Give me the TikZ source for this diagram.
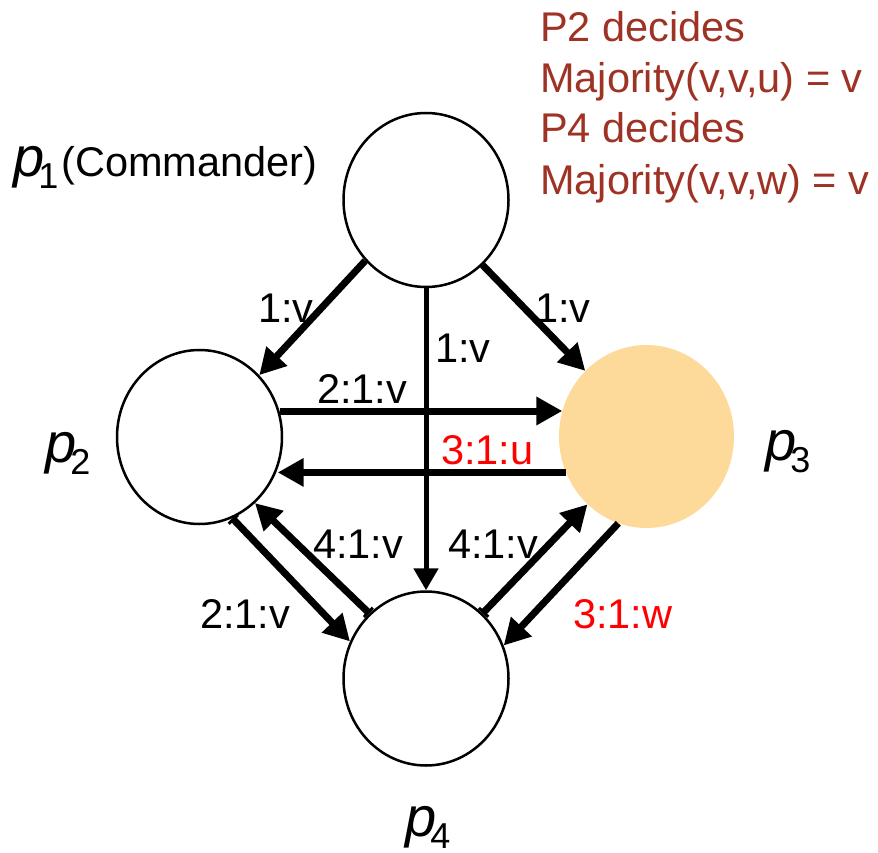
\documentclass[tikz,border=0pt]{standalone}
\usepackage{fontspec}
\setmainfont{Liberation Sans}
\usetikzlibrary{shapes.geometric,arrows.meta}
\definecolor{decred}{RGB}{158,50,36}
\definecolor{pfill}{RGB}{253,218,154}
\newcommand{\pname}[1]{{\fontsize{56}{60}\selectfont\itshape p}\kern-6pt\raisebox{-12pt}{\fontsize{36}{40}\selectfont #1}}
\tikzset{
  proc/.style={ellipse, draw, line width=2.5pt, minimum width=165pt, minimum height=174pt, inner sep=0pt},
  procf/.style={ellipse, fill=pfill, minimum width=175pt, minimum height=183pt, inner sep=0pt},
  arr/.style={line width=7pt, -{Triangle[length=26pt,width=27pt]}},
  varr/.style={line width=5pt, -{Triangle[length=22pt,width=24pt]}},
  barr/.style={line width=7pt, {Bar[width=13pt,line width=3pt]}-{Triangle[length=26pt,width=27pt]}},
  lbl/.style={inner sep=0pt, anchor=base west, font=\fontsize{41.5}{48}\selectfont},
  rlbl/.style={lbl, text=red},
  dlbl/.style={lbl, text=decred},
}
\begin{document}
\begin{tikzpicture}[x=1pt,y=-1pt]
\useasboundingbox (0,0) rectangle (878,853);
% processes
\node[proc] (p1) at (426,200) {};
\node[proc] (p2) at (199.5,437) {};
\node[procf] (p3) at (646.5,436.5) {};
\node[proc] (p4) at (426,678.5) {};
% names
\node[lbl] (n1) at (13,177) {\pname{1}\kern3pt(Commander)};
\node[lbl] (n2) at (45,462) {\pname{2}};
\node[lbl] (n3) at (765,460) {\pname{3}};
\node[lbl] (n4) at (405,836) {\pname{4}};
% decisions
\node[dlbl] (d1) at (540,42) {P2 decides};
\node[dlbl] (d2) at (540,93) {Majority(v,v,u) = v};
\node[dlbl] (d3) at (540,143) {P4 decides};
\node[dlbl] (d4) at (540,195) {Majority(v,v,w) = v};
% round 1
\draw[arr] (p1.225.5) -- (p2.46);
\draw[arr] (p1.311) -- (p3.133.5);
\draw[varr] (p1.270) -- (p4.90);
% round 2
\draw[arr] (p2.18) -- (p2.18 -| p3.163);
\draw[arr] (p3.204.5) -- (p3.204.5 -| p2.-22);
\draw[barr] (p2.292.6) -- (p4.154);
\draw[barr] (p4.131.4) -- (p2.310.5);
\draw[barr] (p4.49.5) -- (p3.229.2);
\draw[arr] (p3.252.7) -- (p4.23.6);
% labels
\node[lbl] (l1) at (258,322) {1:v};
\node[lbl] (l2) at (435,362) {1:v};
\node[lbl] (l3) at (535,322) {1:v};
\node[lbl] (l4) at (317,403) {2:1:v};
\node[rlbl] (l5) at (441,464) {3:1:u};
\node[lbl] (l6) at (313,558) {4:1:v};
\node[lbl] (l7) at (448,558) {4:1:v};
\node[lbl] (l8) at (200,628) {2:1:v};
\node[rlbl] (l9) at (573,628) {3:1:w};
\end{tikzpicture}
\end{document}
